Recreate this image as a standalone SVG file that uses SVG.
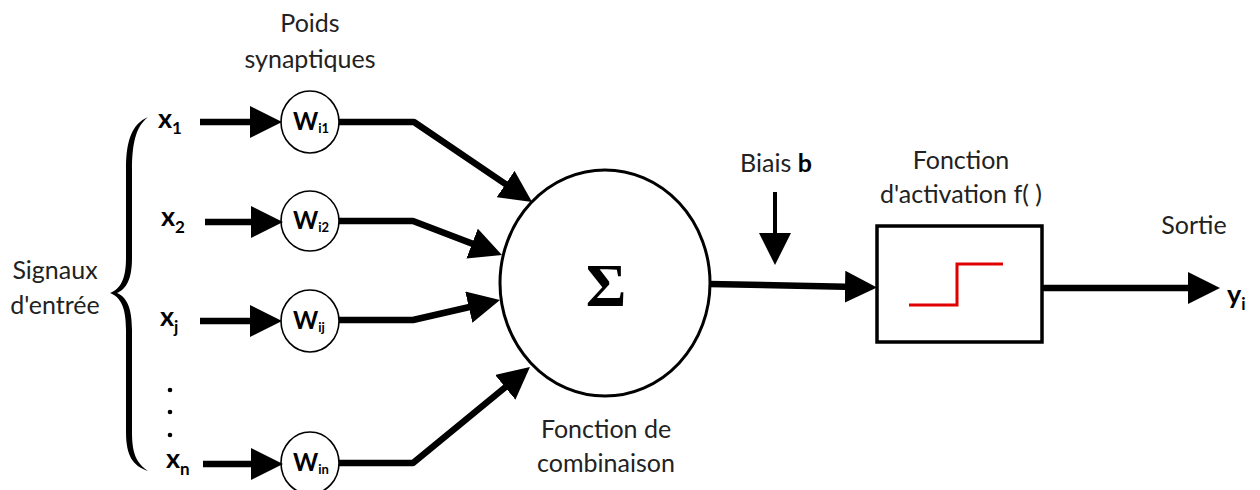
<svg xmlns="http://www.w3.org/2000/svg" width="1260" height="490" viewBox="0 0 1260 490">
  <style>
    .t { font-family: Lato, "Open Sans", "Liberation Sans", sans-serif; font-size: 25px; fill: #222; }
    .xl { font-family: Lato, "Open Sans", "Liberation Sans", sans-serif; font-size: 27px; font-weight: bold; fill: #000; }
    .xs { font-size: 17px; }
    .wl { font-family: Lato, "Open Sans", "Liberation Sans", sans-serif; font-size: 24px; font-weight: bold; fill: #000; }
    .ws { font-size: 13px; }
    .wc { fill: #fff; stroke: #000; stroke-width: 1.6; }
    .wire { fill: none; stroke: #000; stroke-width: 6.5; stroke-linejoin: round; }
    .thin { fill: none; stroke: #000; stroke-width: 4; }
  </style>
  <defs>
    <marker id="head" viewBox="0 0 32 32" refX="12" refY="16" markerWidth="32" markerHeight="32" markerUnits="userSpaceOnUse" orient="auto">
      <path d="M0,0 L32,16 L0,32 z" fill="#000"/>
    </marker>
  </defs>

  <rect width="1260" height="490" fill="#fff"/>

  <!-- titles -->
  <text class="t" x="310" y="32" text-anchor="middle">Poids</text>
  <text class="t" x="310" y="68" text-anchor="middle">synaptiques</text>

  <!-- input signals -->
  <g id="inputs">
    <text class="t" x="55" y="279" text-anchor="middle">Signaux</text>
    <text class="t" x="55" y="314" text-anchor="middle">d'entrée</text>
    <path d="M148,117 C132,124 126,140 126,170 L126,258 C126,280 120,289 110,293 C120,297 126,306 126,330 L126,432 C126,456 133,466 148,471 C137,463 132,455 132,432 L132,330 C132,306 126,297 117,293 C126,289 132,280 132,258 L132,170 C132,140 137,126 148,117 Z" fill="#000"/>
    <text class="xl" x="158" y="128">x<tspan class="xs" dy="6">1</tspan></text>
    <text class="xl" x="161" y="226">x<tspan class="xs" dy="7">2</tspan></text>
    <text class="xl" x="160" y="326">x<tspan class="xs" dy="7">j</tspan></text>
    <circle cx="170" cy="390" r="2.3" fill="#000"/>
    <circle cx="170" cy="412" r="2.3" fill="#000"/>
    <circle cx="170" cy="435" r="2.3" fill="#000"/>
    <text class="xl" x="166" y="468">x<tspan class="xs" dy="7">n</tspan></text>
  </g>

  <!-- synaptic weights -->
  <g id="w-i1">
    <ellipse class="wc" cx="310" cy="122" rx="29" ry="31"/>
    <text class="wl" x="293" y="130">W<tspan class="ws" dy="3">i1</tspan></text>
  </g>
  <g id="w-i2">
    <ellipse class="wc" cx="310" cy="221" rx="29" ry="30"/>
    <text class="wl" x="293" y="229">W<tspan class="ws" dy="3">i2</tspan></text>
  </g>
  <g id="w-ij">
    <ellipse class="wc" cx="310" cy="321" rx="29" ry="31"/>
    <text class="wl" x="293" y="329">W<tspan class="ws" dy="3">ij</tspan></text>
  </g>
  <g id="w-in">
    <ellipse class="wc" cx="310" cy="463" rx="29" ry="31"/>
    <text class="wl" x="293" y="471">W<tspan class="ws" dy="3">in</tspan></text>
  </g>

  <!-- summation -->
  <g id="sum">
    <ellipse cx="605" cy="283" rx="105" ry="113" fill="#fff" stroke="#000" stroke-width="3"/>
    <text x="606" y="306" text-anchor="middle" font-family="'Liberation Serif', serif" font-weight="bold" font-size="62" fill="#000">Σ</text>
    <text class="t" x="606" y="438" text-anchor="middle">Fonction de</text>
    <text class="t" x="606" y="472" text-anchor="middle">combinaison</text>
  </g>

  <!-- bias -->
  <g id="bias">
    <text class="t" x="776" y="172" text-anchor="middle">Biais <tspan font-weight="bold" fill="#000">b</tspan></text>
  </g>

  <!-- activation -->
  <g id="activation">
    <text class="t" x="961" y="169" text-anchor="middle">Fonction</text>
    <text class="t" x="961" y="203" text-anchor="middle">d'activation f( )</text>
    <rect x="877" y="226" width="165" height="116" fill="#fff" stroke="#000" stroke-width="3.5"/>
    <path d="M909,305 L957,305 L957,264 L1003,264" fill="none" stroke="#e00000" stroke-width="3"/>
  </g>

  <!-- output -->
  <g id="output">
    <text class="t" x="1194" y="234" text-anchor="middle">Sortie</text>
    <text class="xl" x="1227" y="304">y<tspan class="xs" dy="6">i</tspan></text>
  </g>

  <!-- connectors -->
  <g id="connectors">
    <line class="wire" x1="200" y1="122" x2="262" y2="122" marker-end="url(#head)"/>
    <line class="wire" x1="205" y1="222" x2="263" y2="222" marker-end="url(#head)"/>
    <line class="wire" x1="200" y1="321" x2="262" y2="321" marker-end="url(#head)"/>
    <line class="wire" x1="203" y1="464" x2="263" y2="464" marker-end="url(#head)"/>

    <path class="wire" d="M339,122 L414,122 L515.5,190.8" marker-end="url(#head)"/>
    <path class="wire" d="M339,221 L413,221 L483.3,247.9" marker-end="url(#head)"/>
    <path class="wire" d="M339,320 L413,320 L480.5,304.5" marker-end="url(#head)"/>
    <path class="wire" d="M339,463 L413,463 L514.5,379.7" marker-end="url(#head)"/>

    <path class="wire" d="M709,284 L857,287" marker-end="url(#head)"/>
    <line class="thin" x1="775" y1="192" x2="775" y2="245" marker-end="url(#head)"/>
    <line class="wire" x1="1042" y1="288" x2="1200" y2="288" marker-end="url(#head)"/>
  </g>
</svg>
